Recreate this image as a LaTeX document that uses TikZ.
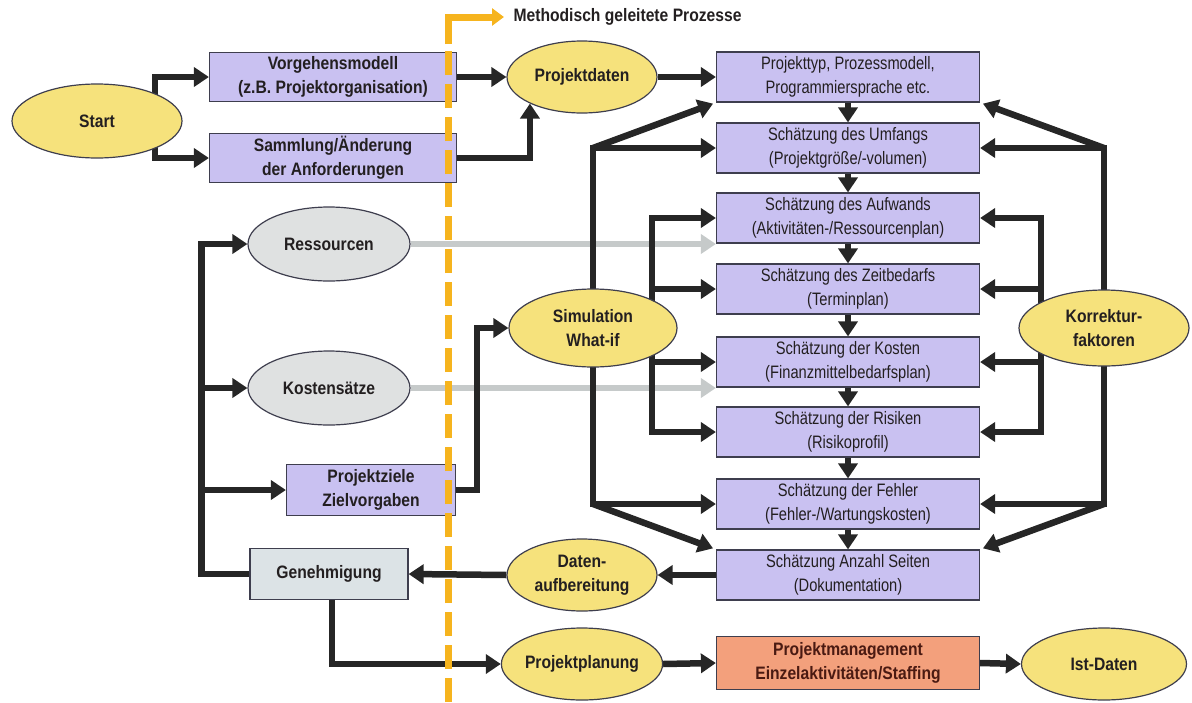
\documentclass[tikz,border=0pt]{standalone}
\usepackage{fontspec}
\setmainfont{Liberation Sans}[FakeStretch=0.815,BoldFeatures={FakeStretch=0.87}]
\usetikzlibrary{shapes.geometric,arrows.meta,backgrounds,calc}

\definecolor{boxlila}{HTML}{C9C1F1}
\definecolor{ovalgelb}{HTML}{F6E27C}
\definecolor{ovalgrau}{HTML}{DFE1E1}
\definecolor{boxgrau}{HTML}{DCE3E6}
\definecolor{boxorange}{HTML}{F3A07C}
\definecolor{pfeil}{HTML}{262626}
\definecolor{pfeilgrau}{HTML}{C6CACA}
\definecolor{strich}{HTML}{F6B41E}
\definecolor{rand}{HTML}{3E3E4E}
\definecolor{schrift}{HTML}{231F20}
\definecolor{pmschrift}{HTML}{4A1A12}

\begin{document}
\begin{tikzpicture}[x=1pt,y=-1pt,
    font=\fontsize{18}{24}\selectfont,
    kasten/.style={draw=rand,line width=1.2pt,fill=boxlila,minimum width=263,minimum height=50,inner sep=0,align=center,text=schrift},
    fett/.style={font=\fontsize{18}{24}\selectfont\bfseries},
    oval/.style={ellipse,draw=rand,line width=1.2pt,fill=ovalgelb,inner sep=0,align=center,text=schrift,fett},
    grauoval/.style={oval,fill=ovalgrau,minimum width=162,minimum height=74},
    pfl/.style={line width=6.5pt,draw=pfeil,-{Triangle[length=15pt,width=19pt]}},
    graupfl/.style={pfl,draw=pfeilgrau},
    orange/.style={line width=7pt,draw=strich}]
  \useasboundingbox (0,0) rectangle (1192,702);

  % linke Seite
  \node[oval,minimum width=170,minimum height=74] (start) at (97,121) {Start};
  \node[kasten,fett,minimum width=247,minimum height=49] (vorg) at (333,77) {Vorgehensmodell\\(z.B. Projektorganisation)};
  \node[kasten,fett,minimum width=247,minimum height=49] (samml) at (333,158) {Sammlung/Änderung\\der Anforderungen};
  \node[grauoval] (ress) at (329,244) {Ressourcen};
  \node[grauoval] (kostens) at (329,388) {Kostensätze};
  \node[kasten,fett,minimum width=169,minimum height=51] (ziele) at (371,490) {Projektziele\\Zielvorgaben};
  \node[kasten,fett,fill=boxgrau,minimum width=158,minimum height=51] (genehm) at (329,574) {Genehmigung};

  % mittlere Spalte
  \node[oval,minimum width=150,minimum height=72] (pdaten) at (582,77) {Projektdaten};
  \node[oval,minimum width=168,minimum height=78] (sim) at (593,328) {Simulation\\What-if};
  \node[oval,minimum width=150,minimum height=72] (aufb) at (582,575) {Daten-\\aufbereitung};
  \node[oval,minimum width=150,minimum height=72] (planung) at (582,664) {Projektplanung};

  % Schaetzungen
  \node[kasten] (typ) at (848,77) {Projekttyp, Prozessmodell,\\Programmiersprache etc.};
  \node[kasten] (umfang) at (848,148) {Schätzung des Umfangs\\(Projektgröße/-volumen)};
  \node[kasten] (aufwand) at (848,218) {Schätzung des Aufwands\\(Aktivitäten-/Ressourcenplan)};
  \node[kasten] (zeit) at (848,289) {Schätzung des Zeitbedarfs\\(Terminplan)};
  \node[kasten] (kosten) at (848,362) {Schätzung der Kosten\\(Finanzmittelbedarfsplan)};
  \node[kasten] (risiken) at (848,432) {Schätzung der Risiken\\(Risikoprofil)};
  \node[kasten] (fehler) at (848,504) {Schätzung der Fehler\\(Fehler-/Wartungskosten)};
  \node[kasten] (seiten) at (848,575) {Schätzung Anzahl Seiten\\(Dokumentation)};
  \node[kasten,fett,fill=boxorange,minimum height=53,text=pmschrift] (pm) at (848,663) {Projektmanagement\\Einzelaktivitäten/Staffing};

  % rechte Seite
  \node[oval,minimum width=170,minimum height=76] (korr) at (1104,328) {Korrektur-\\faktoren};
  \node[oval,minimum width=165,minimum height=72] (ist) at (1104,664) {Ist-Daten};

  \node[fett,anchor=west,text=schrift] (methode) at (510,17) {Methodisch geleitete Prozesse};

  \begin{scope}[on background layer]
    \draw[pfl] ($(start.center)+(58,0)$) |- (vorg.west);
    \draw[pfl] ($(start.center)+(58,0)$) |- (samml.west);
    \draw[pfl] (vorg.east) -- (pdaten.west);
    \draw[pfl] (samml.east) -| (pdaten.207);
    \draw[pfl] (pdaten.east) -- (typ.west);

    \foreach \a/\b in {typ/umfang,umfang/aufwand,aufwand/zeit,zeit/kosten,kosten/risiken,risiken/fehler,fehler/seiten}
      \draw[pfl] (\a) -- (\b);

    \draw[graupfl] (ress.east) -- (ress.east -| aufwand.west);
    \draw[graupfl] (kostens.east) -- (kostens.east -| kosten.west);

    \foreach \z in {ress,kostens,ziele}
      \draw[pfl] (genehm.west) -- ++(-48,0) |- (\z.west);
    \draw[pfl] (ziele.east) -- ++(21,0) |- (sim.west);

    % Simulation
    \draw[pfl] (sim.center) |- (umfang.west);
    \draw[pfl] (sim.center) |- (fehler.west);
    \draw[pfl,shorten >=3pt] (sim.center |- umfang.west) -- (typ.south west);
    \draw[pfl,shorten >=3pt] (sim.center |- fehler.west) -- (seiten.north west);
    \foreach \z in {aufwand,zeit,kosten,risiken}
      \draw[pfl] ($(sim.center)+(59,0)$) |- (\z.west);

    % Korrekturfaktoren
    \draw[pfl] (korr.center) |- (umfang.east);
    \draw[pfl] (korr.center) |- (fehler.east);
    \draw[pfl,shorten >=3pt] (korr.center |- umfang.east) -- (typ.south east);
    \draw[pfl,shorten >=3pt] (korr.center |- fehler.east) -- (seiten.north east);
    \foreach \z in {aufwand,zeit,kosten,risiken}
      \draw[pfl] ($(korr.center)+(-63,0)$) |- (\z.east);

    \draw[pfl] (seiten.west) -- (aufb.east);
    \draw[pfl] (aufb.west) -- (genehm.east);
    \draw[pfl] ($(genehm.south)+(3,0)$) |- (planung.west);
    \draw[pfl] (planung.east) -- (pm.west);
    \draw[pfl] (pm.east) -- (ist.west);
  \end{scope}

  % Trennlinie
  \draw[orange,dash pattern=on 24pt off 9pt] (448,702) -- (448,42);
  \draw[orange,-{Triangle[length=12pt,width=17pt]},shorten >=6pt] (448,44) |- (methode.west);
\end{tikzpicture}
\end{document}
